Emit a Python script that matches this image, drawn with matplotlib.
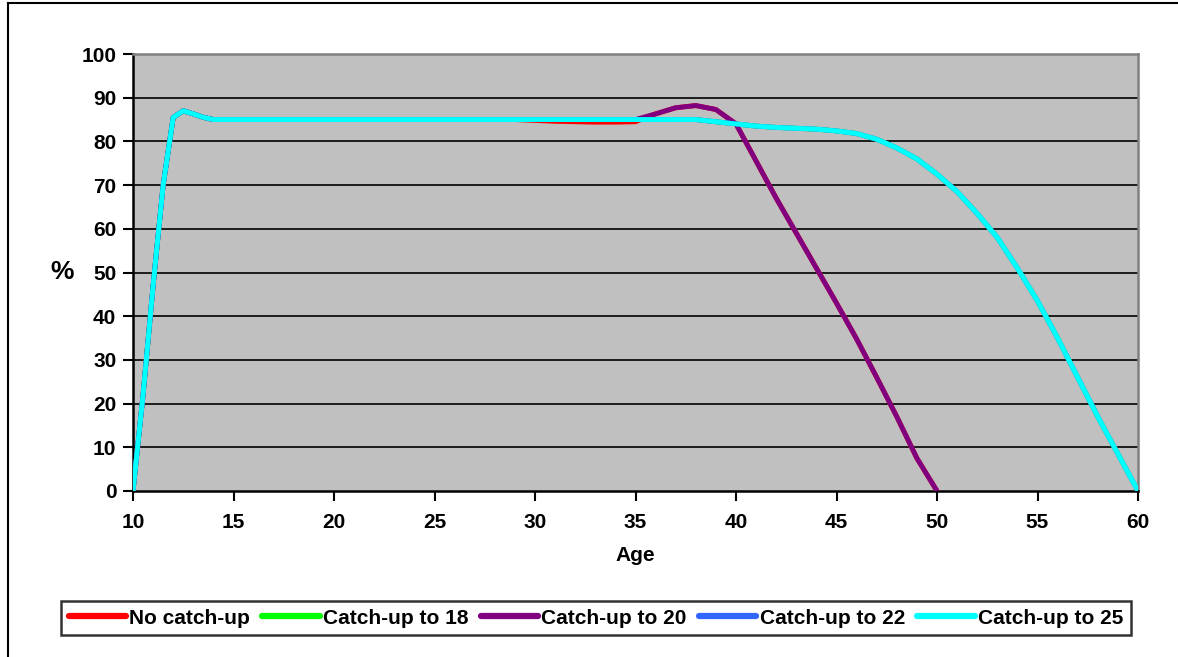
import numpy as np
import matplotlib
matplotlib.use('Agg')
from matplotlib import pyplot as plt
from matplotlib.lines import Line2D

plt.rcParams['font.family'] = ['Liberation Sans', 'DejaVu Sans']
plt.rcParams['font.weight'] = 'bold'

# Share of cohort (%) by age, one series per catch-up policy
ages = [10, 10.5, 11, 11.5, 12, 12.5, 13, 13.5] + list(range(14, 61))

catchup_25 = [0, 22, 47, 70, 85.5, 87, 86.3, 85.5,
              85, 85, 85, 85, 85, 85, 85, 85, 85, 85,
              85, 85, 85, 85, 85, 85, 85, 85, 85, 85,
              85, 85, 85, 85, 85,
              84.5, 84, 83.5, 83.2, 83, 82.8, 82.4, 81.8, 80.5, 78.5,
              76, 72.5, 68.5, 63.5, 58, 51, 43.5, 35, 26, 17,
              8.5, 0]
catchup_22 = list(catchup_25)
catchup_18 = list(catchup_25)

catchup_20 = [0, 22, 47, 70, 85.5, 87, 86.3, 85.5,
              85, 85, 85, 85, 85, 85, 85, 85, 85, 85,
              85, 85, 85, 85, 85, 85, 85, 85, 85, 85,
              85, 85,
              86.3, 87.7, 88.2, 87.3, 84, 75.5, 67, 59, 51, 43,
              34.8, 26, 17, 7.5, 0] + [np.nan] * 10

no_catchup = [0, 22, 47, 70, 85.5, 87, 86.3, 85.5,
              85, 85, 85, 85, 85, 85, 85, 85, 85, 85,
              85, 85, 85, 85, 85, 85,
              84.8, 84.6, 84.5, 84.4, 84.4, 84.5,
              86.3, 87.7, 88.2, 87.3, 84, 75.5, 67, 59, 51, 43,
              34.8, 26, 17, 7.5, 0] + [np.nan] * 10

series = [
    ('No catch-up', no_catchup, '#FF0000'),
    ('Catch-up to 18', catchup_18, '#00FF00'),
    ('Catch-up to 20', catchup_20, '#800080'),
    ('Catch-up to 22', catchup_22, '#3366FF'),
    ('Catch-up to 25', catchup_25, '#00FFFF'),
]

W, H = 1178, 657
fig = plt.figure(figsize=(W / 100, H / 100), dpi=100)
ax = fig.add_axes([133 / W, 1 - 491 / H, (1138 - 133) / W, (491 - 54) / H])
ax.set_facecolor('#C0C0C0')

for name, vals, col in series:
    ax.plot(ages, vals, color=col, lw=3.5, label=name,
            solid_capstyle='round', solid_joinstyle='round', zorder=3)

ax.set_xlim(10, 60)
ax.set_ylim(0, 100)
ax.set_xticks(range(10, 61, 5))
ax.set_yticks(range(0, 101, 10))
ax.tick_params(axis='both', labelsize=15, width=1.5, length=7, direction='out')
ax.tick_params(axis='y', pad=5)
ax.tick_params(axis='x', pad=9)
for lbl in ax.get_xticklabels() + ax.get_yticklabels():
    lbl.set_fontweight('bold')

ax.grid(axis='y', color='black', lw=1.2, zorder=1)
ygl = ax.yaxis.get_gridlines()
ygl[0].set_visible(False)
ygl[-1].set_visible(False)

for side in ('left', 'bottom'):
    ax.spines[side].set_color('black')
    ax.spines[side].set_linewidth(1.8)
for side in ('top', 'right'):
    ax.spines[side].set_color('#808080')
    ax.spines[side].set_linewidth(1.8)

ax.set_xlabel('Age', fontsize=15, fontweight='bold', labelpad=10)
fig.text(62 / W, 1 - 272 / H, '%', fontsize=19, fontweight='bold',
         ha='center', va='center')

leg = fig.legend(loc='center', bbox_to_anchor=(596 / W, 1 - 618 / H), ncol=5,
                 fontsize=15, frameon=True, fancybox=False, edgecolor='black',
                 handlelength=2.75, handletextpad=0.15, columnspacing=0.6,
                 borderpad=0.35, borderaxespad=0)
leg.get_frame().set_linewidth(1.8)
for txt in leg.get_texts():
    txt.set_fontweight('bold')
for h in leg.legend_handles:
    h.set_linewidth(4.5)

# outer chart frame
fig.add_artist(Line2D([8 / W, 8 / W], [1 - 3 / H, -0.05], color='black',
                      lw=1.5, transform=fig.transFigure))
fig.add_artist(Line2D([8 / W, 1.05], [1 - 3 / H, 1 - 3 / H], color='black',
                      lw=1.5, transform=fig.transFigure))

fig.savefig('out.png', dpi=100)
